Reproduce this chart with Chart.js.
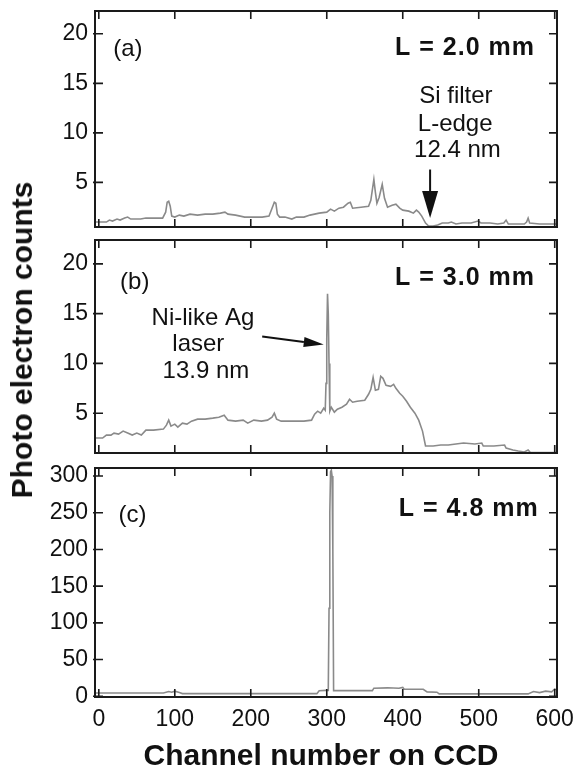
<!DOCTYPE html>
<html>
<head>
<meta charset="utf-8">
<script src="https://cdn.jsdelivr.net/npm/chart.js@4.4.0/dist/chart.umd.min.js"></script>
<style>
  body { margin: 0; background: #fff; }
  #wrap { position: relative; width: 577px; height: 775px; font-family: "Liberation Sans", Arial, sans-serif; color: #111; }
  #wrap canvas { position: absolute; left: 0; }
  #yTitle { position: absolute; left: 22px; top: 340px; transform: translate(-50%, -50%) rotate(-90deg); font-weight: bold; font-size: 30px; white-space: nowrap; }
  #xTitle { position: absolute; left: 321px; top: 755px; transform: translate(-50%, -50%); font-weight: bold; font-size: 30px; white-space: nowrap; }
</style>
</head>
<body>
<div id="wrap">
  <canvas id="panelA" width="577" height="234" style="top:0px"></canvas>
  <canvas id="panelB" width="577" height="227" style="top:234px"></canvas>
  <canvas id="panelC" width="577" height="314" style="top:461px"></canvas>
  <div id="yTitle">Photo electron counts</div>
  <div id="xTitle">Channel number on CCD</div>
</div>
<script>
'use strict'

// channel axis shared by all three spectra
let xTicks = [0, 100, 200, 300, 400, 500, 600];

// (a) L = 2.0 mm
let chA = [-5, 10, 14, 18, 24, 28, 34, 38, 42, 55, 62, 84, 88, 90, 92, 94, 96, 100, 106, 112,
    120, 130, 140, 150, 160, 166, 170, 180, 192, 200, 215, 224, 228, 231, 233, 235, 238, 245, 254, 260,
    270, 278, 290, 300, 305, 310, 316, 322, 328, 331, 334, 345, 355, 358, 362, 364, 366, 369, 373, 376,
    380, 386, 391, 396, 400, 408, 414, 418, 421, 425, 430, 434, 440, 446, 452, 460, 464, 470, 478, 490,
    499, 503, 515, 525, 533, 536, 539, 550, 560, 563, 565, 567, 580, 603];
let cntA = [1.0, 1.0, 1.2, 1.1, 1.3, 1.2, 1.4, 1.5, 1.3, 1.3, 1.4, 1.4, 2.0, 3.0, 3.1, 2.6, 1.6, 1.5, 1.7, 1.6,
    1.8, 1.7, 1.8, 1.8, 1.9, 2.0, 1.8, 1.7, 1.5, 1.5, 1.5, 1.6, 2.4, 3.0, 2.9, 1.8, 1.5, 1.5, 1.3, 1.5,
    1.5, 1.7, 1.9, 2.0, 2.3, 2.1, 2.4, 2.5, 2.9, 3.0, 2.4, 2.5, 2.6, 3.2, 5.3, 4.0, 2.9, 3.5, 4.8, 3.4,
    2.5, 2.7, 2.8, 2.4, 2.2, 2.1, 1.9, 2.2, 2.0, 1.6, 0.9, 0.6, 0.6, 0.7, 0.9, 0.9, 1.0, 0.8, 0.9, 0.9,
    1.1, 0.9, 0.9, 0.8, 0.9, 1.2, 0.8, 0.8, 0.8, 1.0, 1.4, 0.9, 0.8, 0.8];
let yTicksA = [5, 10, 15, 20];

// (b) L = 3.0 mm
let chB = [-5, 5, 10, 16, 20, 26, 32, 38, 44, 50, 56, 62, 72, 85, 89, 92, 95, 100, 104, 110,
    116, 122, 130, 140, 150, 158, 165, 170, 180, 190, 196, 204, 214, 222, 228, 231, 234, 240, 255, 270,
    280, 284, 288, 292, 296, 298, 299, 300, 301, 302, 303, 304, 306, 310, 314, 320, 326, 330, 334, 340,
    350, 355, 358, 361, 364, 368, 371, 374, 378, 384, 388, 391, 396, 400, 405, 410, 416, 421, 426, 430,
    440, 450, 460, 470, 480, 495, 504, 506, 520, 534, 536, 545, 552, 560, 565, 568, 580, 603];
let cntB = [2.5, 2.5, 2.8, 2.8, 3.0, 2.9, 3.2, 3.0, 2.8, 3.0, 2.8, 3.3, 3.3, 3.4, 3.8, 4.3, 3.7, 3.9, 3.6, 4.0,
    3.9, 4.2, 4.4, 4.4, 4.5, 4.6, 4.8, 4.3, 4.2, 4.3, 4.0, 4.3, 4.2, 4.3, 4.6, 5.0, 4.4, 4.2, 4.2, 4.2,
    4.3, 4.9, 5.2, 5.0, 5.5, 5.3, 8.0, 12.5, 17.0, 15.0, 10.0, 5.2, 5.6, 5.1, 5.4, 5.6, 5.9, 6.4, 6.1, 6.2,
    6.3, 6.9, 7.4, 8.6, 7.3, 7.4, 8.7, 8.5, 7.8, 7.7, 7.9, 7.5, 7.0, 6.7, 6.2, 5.6, 5.0, 4.3, 3.2, 1.7,
    1.7, 1.8, 1.8, 1.9, 2.0, 1.9, 2.0, 1.7, 1.7, 1.8, 1.5, 1.3, 1.2, 1.1, 1.3, 1.05, 1.05, 1.05];
let yTicksB = [5, 10, 15, 20];

// (c) L = 4.8 mm
let chC = [-5, 85, 92, 96, 100, 106, 110, 200, 287, 290, 299, 302, 303, 304, 305, 306, 307, 308, 309, 360,
    362, 380, 395, 400, 402, 427, 432, 445, 448, 565, 572, 580, 588, 596, 600, 603];
let cntC = [4.5, 4.5, 6.5, 5.5, 7.0, 5.0, 3.6, 3.6, 3.6, 7.5, 8.0, 8.0, 120, 250, 306, 308, 300, 200, 7.7, 7.7,
    11, 11.5, 11.0, 12.0, 9.5, 9.5, 6.0, 5.5, 3.2, 3.2, 6.5, 5.0, 7.0, 6.0, 10, 8];
let yTicksC = [0, 50, 100, 150, 200, 250, 300];

Chart.defaults.font.family = '"Liberation Sans", Arial, sans-serif';
Chart.defaults.color = '#111';
Chart.defaults.animation = false;

// box round the plot with inward tick marks on all four sides
const frame = {
    id: 'frame',
    afterDraw(chart, args, opts) {
        let { ctx, chartArea: a, scales } = chart;
        let t = 8;
        ctx.save();
        ctx.strokeStyle = '#1a1a1a';
        ctx.lineWidth = 1.6;
        ctx.beginPath();
        xTicks.forEach(v => {
            let px = scales.x.getPixelForValue(v);
            ctx.moveTo(px, a.top); ctx.lineTo(px, a.top + t);
            ctx.moveTo(px, a.bottom); ctx.lineTo(px, a.bottom - t);
        });
        opts.yt.forEach(v => {
            let py = scales.y.getPixelForValue(v);
            ctx.moveTo(a.left - 2, py); ctx.lineTo(a.left + t, py);
            ctx.moveTo(a.right, py); ctx.lineTo(a.right - t, py);
        });
        ctx.stroke();
        ctx.lineWidth = 2;
        ctx.strokeRect(a.left, a.top, a.right - a.left, a.bottom - a.top);
        ctx.restore();
    }
};

// panel letters, lengths and the arrowed annotations
const notes = {
    id: 'notes',
    afterDraw(chart, args, opts) {
        let { ctx, scales: { x, y } } = chart;
        ctx.save();
        ctx.fillStyle = '#111';
        ctx.textBaseline = 'middle';
        (opts.texts || []).forEach(n => {
            ctx.font = n.font;
            ctx.letterSpacing = n.spacing || '0px';
            ctx.textAlign = n.align || 'center';
            ctx.fillText(n.text, x.getPixelForValue(n.x), y.getPixelForValue(n.y));
        });
        let ar = opts.arrow;
        if (ar) {
            let x0 = x.getPixelForValue(ar.from[0]), y0 = y.getPixelForValue(ar.from[1]);
            let x1 = x.getPixelForValue(ar.to[0]), y1 = y.getPixelForValue(ar.to[1]);
            let ang = Math.atan2(y1 - y0, x1 - x0);
            let bx = x1 - ar.len * Math.cos(ang), by = y1 - ar.len * Math.sin(ang);
            ctx.strokeStyle = '#111';
            ctx.lineWidth = 2;
            ctx.beginPath();
            ctx.moveTo(x0, y0); ctx.lineTo(bx, by);
            ctx.stroke();
            ctx.beginPath();
            ctx.moveTo(x1, y1);
            ctx.lineTo(bx + ar.half * Math.sin(ang), by - ar.half * Math.cos(ang));
            ctx.lineTo(bx - ar.half * Math.sin(ang), by + ar.half * Math.cos(ang));
            ctx.closePath();
            ctx.fill();
        }
        ctx.restore();
    }
};

let tickFont = { size: 23 };
let boldFont = 'bold 25px "Liberation Sans", Arial, sans-serif';
let textFont = '24px "Liberation Sans", Arial, sans-serif';

function makePanel(id, ch, cnt, yMin, yMax, yTicks, showX, pad, texts, arrow) {
    let ctx = document.getElementById(id).getContext('2d');
    return new Chart(ctx, {
        type: 'line',
        data: {
            datasets: [{
                data: ch.map((c, i) => ({ x: c, y: cnt[i] })),
                borderColor: '#8a8a8a',
                borderWidth: 1.6,
                pointRadius: 0,
                tension: 0
            }]
        },
        options: {
            responsive: false,
            layout: { padding: pad },
            plugins: {
                legend: { display: false },
                tooltip: { enabled: false },
                frame: { yt: yTicks },
                notes: { texts: texts, arrow: arrow }
            },
            scales: {
                x: {
                    type: 'linear',
                    min: -5,
                    max: 603,
                    display: showX,
                    grid: { display: false, drawTicks: false },
                    border: { display: false },
                    afterBuildTicks: s => { s.ticks = xTicks.map(v => ({ value: v })); },
                    afterFit: s => {
                        s.height = showX ? 30 : 0;
                        s.paddingLeft = 0;
                        s.paddingRight = 0;
                    },
                    ticks: { font: tickFont, padding: 9, autoSkip: false, maxRotation: 0 }
                },
                y: {
                    min: yMin,
                    max: yMax,
                    grid: { display: false, drawTicks: false },
                    border: { display: false },
                    afterBuildTicks: s => { s.ticks = yTicks.map(v => ({ value: v })); },
                    afterFit: s => {
                        s.width = 95;
                        s.paddingTop = 0;
                        s.paddingBottom = 0;
                    },
                    ticks: { font: tickFont, padding: 7, autoSkip: false }
                }
            }
        },
        plugins: [frame, notes]
    });
}

makePanel('panelA', chA, cntA, 0.5, 22.3, yTicksA, false,
    { left: 0, right: 20, top: 11, bottom: 7 },
    [
        { text: '(a)', x: 19, y: 18.4, align: 'left', font: textFont },
        { text: 'L = 2.0 mm', x: 574, y: 18.6, align: 'right', font: boldFont, spacing: '1px' },
        { text: 'Si filter', x: 470, y: 13.7, font: textFont },
        { text: 'L-edge', x: 469, y: 10.9, font: textFont },
        { text: '12.4 nm', x: 472, y: 8.2, font: textFont }
    ],
    { from: [436, 6.3], to: [436, 1.4], len: 27, half: 8 });

makePanel('panelB', chB, cntB, 1.0, 22.4, yTicksB, false,
    { left: 0, right: 20, top: 6, bottom: 8 },
    [
        { text: '(b)', x: 28, y: 18.1, align: 'left', font: textFont },
        { text: 'L = 3.0 mm', x: 574, y: 18.6, align: 'right', font: boldFont, spacing: '1px' },
        { text: 'Ni-like Ag', x: 137, y: 14.5, font: textFont },
        { text: 'laser', x: 131, y: 11.9, font: textFont },
        { text: '13.9 nm', x: 141, y: 9.2, font: textFont }
    ],
    { from: [215, 12.7], to: [296, 11.9], len: 20, half: 5 });

makePanel('panelC', chC, cntC, -1, 311, yTicksC, true,
    { left: 0, right: 20, top: 7, bottom: 48 },
    [
        { text: '(c)', x: 26, y: 247, align: 'left', font: textFont },
        { text: 'L = 4.8 mm', x: 579, y: 255, align: 'right', font: boldFont, spacing: '1px' }
    ],
    null);
</script>
</body>
</html>
